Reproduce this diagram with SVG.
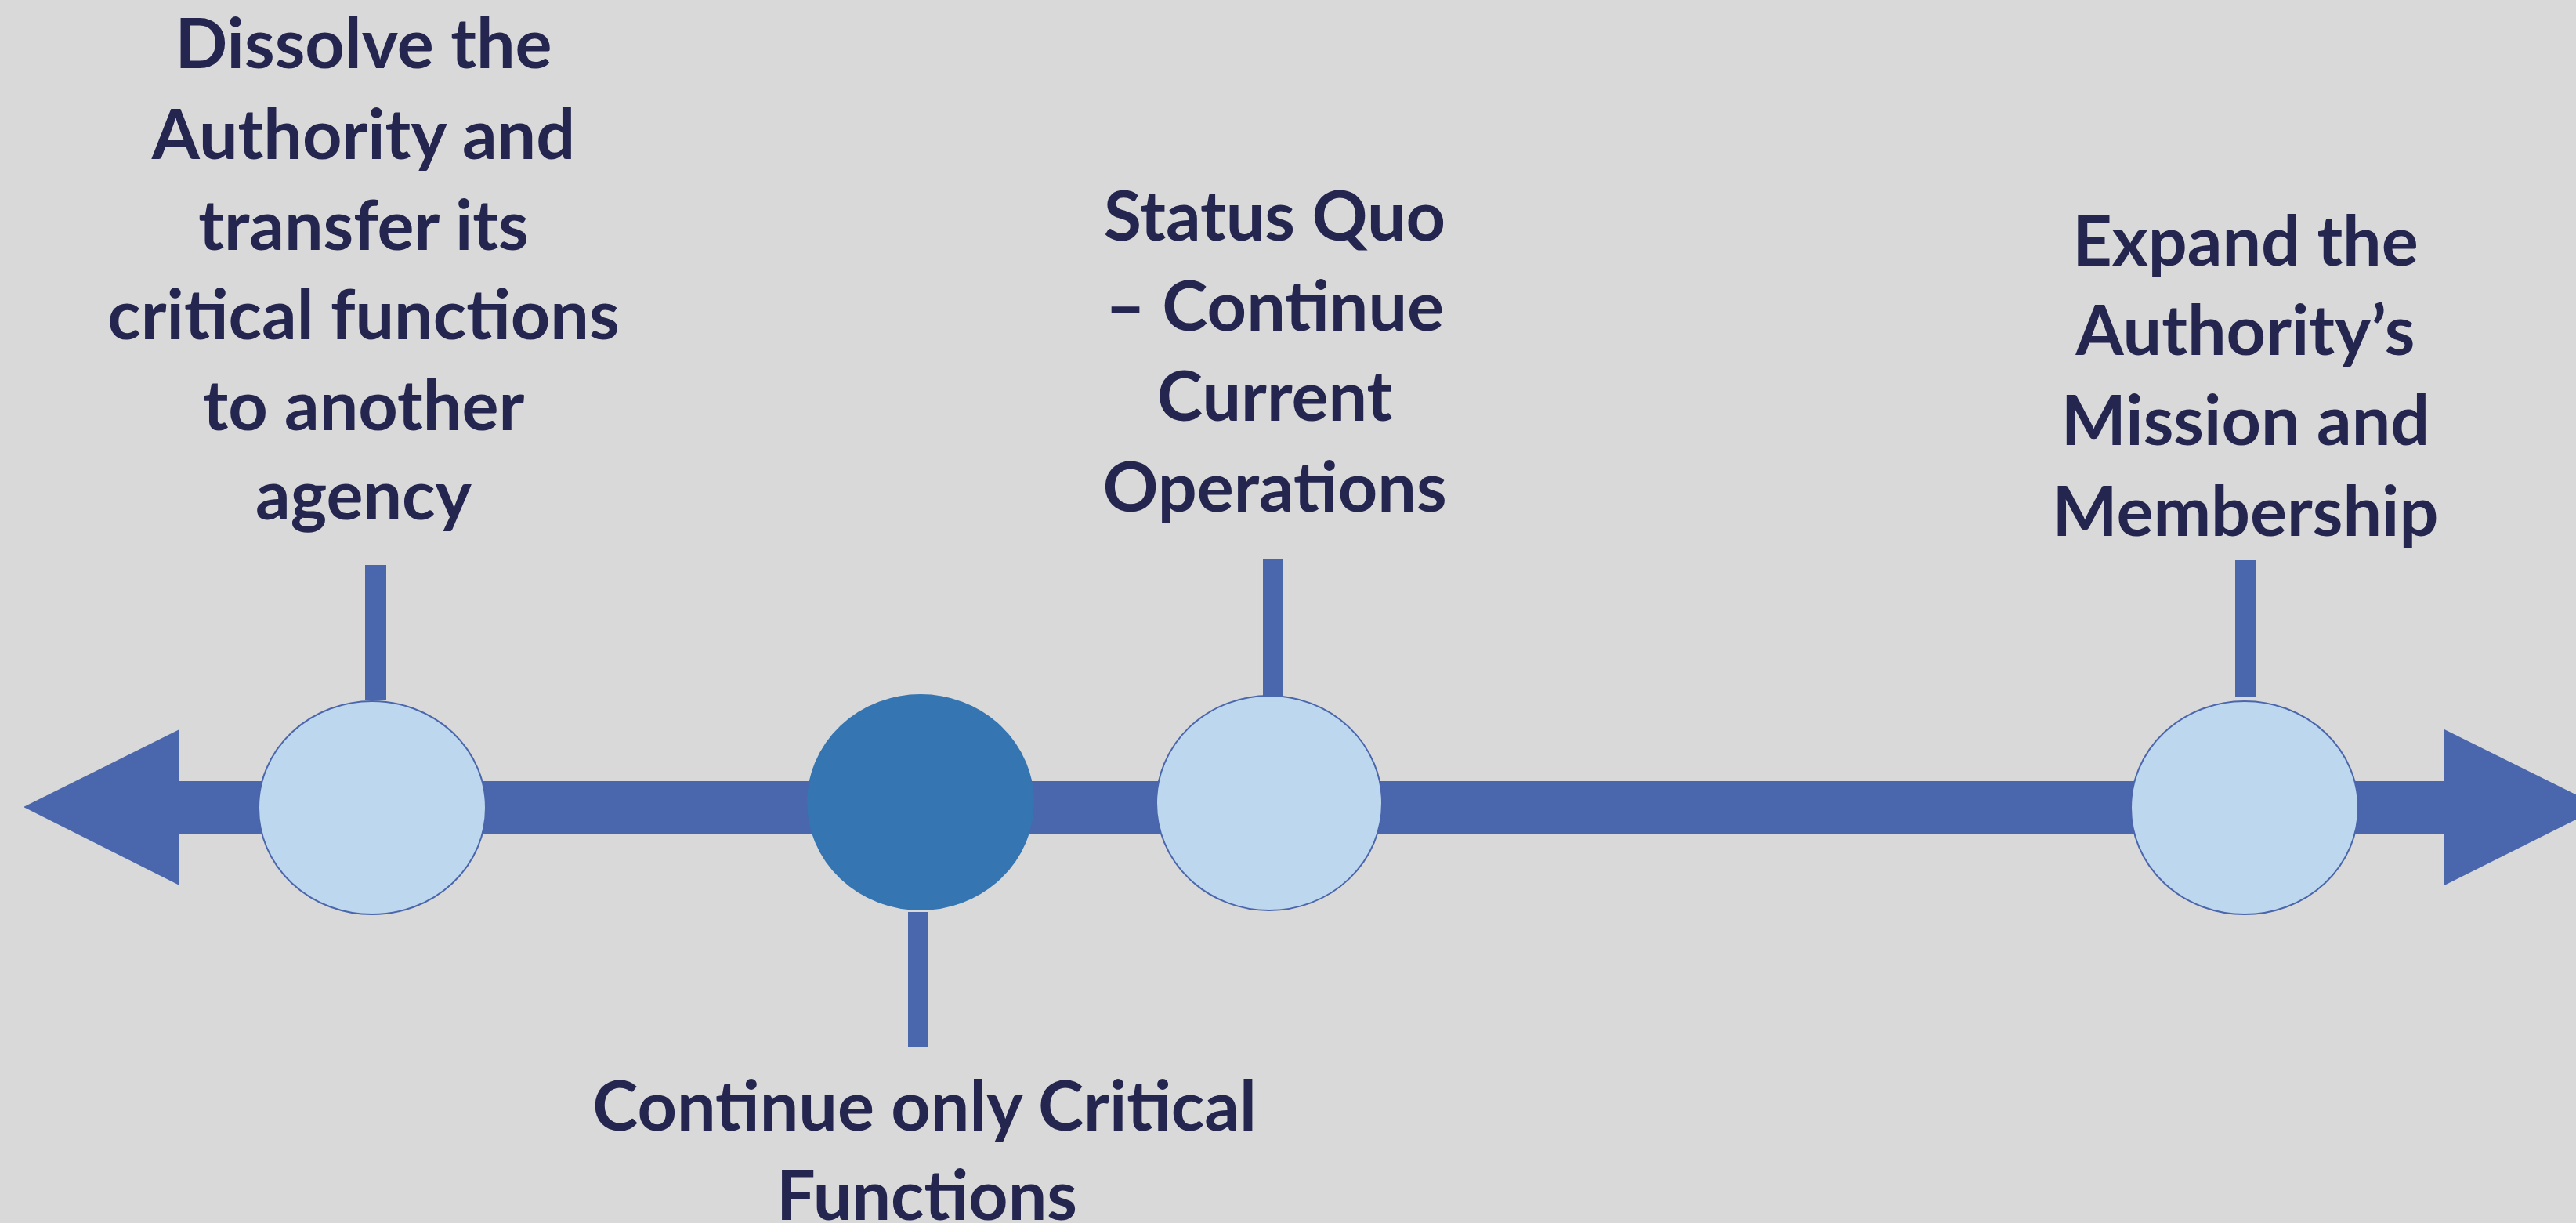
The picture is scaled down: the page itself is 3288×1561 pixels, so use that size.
<svg xmlns="http://www.w3.org/2000/svg" width="3288" height="1561" viewBox="0 0 3288 1561">
<style>
.lbl{font-family:Lato,"Open Sans","Liberation Sans",sans-serif;font-weight:700;font-size:88px;fill:#24264F;text-anchor:middle}
.light{fill:#BDD7EE;stroke:#4A66AC;stroke-width:2}
.dark{fill:#3575B2;stroke:#3575B2;stroke-width:2}
.stem{fill:#4A66AC}
</style>
<rect width="3288" height="1561" fill="#D9D9D9"/>
<g id="axis">
<polygon fill="#4A66AC" points="30,1030 229,931 229,997 3120,997 3120,931 3320,1030 3120,1130 3120,1064 229,1064 229,1130"/>
</g>
<g id="connectors">
<rect class="stem" x="466" y="721" width="27" height="173"/>
<rect class="stem" x="1159" y="1164" width="26" height="172"/>
<rect class="stem" x="1612" y="713" width="26" height="175"/>
<rect class="stem" x="2853" y="715" width="27" height="175"/>
</g>
<g id="node-dissolve">
<ellipse class="light" cx="475" cy="1031" rx="145" ry="136"/>
<text class="lbl" x="464"><tspan x="464" y="87">Dissolve the</tspan><tspan x="464" y="203">Authority and</tspan><tspan x="464" y="319">transfer its</tspan><tspan x="464" y="433">critical functions</tspan><tspan x="464" y="549">to another</tspan><tspan x="464" y="663">agency</tspan></text>
</g>
<g id="node-critical">
<ellipse class="dark" cx="1175" cy="1024" rx="144" ry="137"/>
<text class="lbl"><tspan x="1180" y="1443">Continue only Critical</tspan><tspan x="1183" y="1557">Functions</tspan></text>
</g>
<g id="node-statusquo">
<ellipse class="light" cx="1620" cy="1025" rx="144" ry="137"/>
<text class="lbl"><tspan x="1627" y="307">Status Quo</tspan><tspan x="1627" y="422">– Continue</tspan><tspan x="1627" y="537">Current</tspan><tspan x="1627" y="653">Operations</tspan></text>
</g>
<g id="node-expand">
<ellipse class="light" cx="2865" cy="1031" rx="145" ry="136"/>
<text class="lbl"><tspan x="2866" y="339">Expand the</tspan><tspan x="2866" y="453">Authority’s</tspan><tspan x="2866" y="568">Mission and</tspan><tspan x="2866" y="684">Membership</tspan></text>
</g>
</svg>
